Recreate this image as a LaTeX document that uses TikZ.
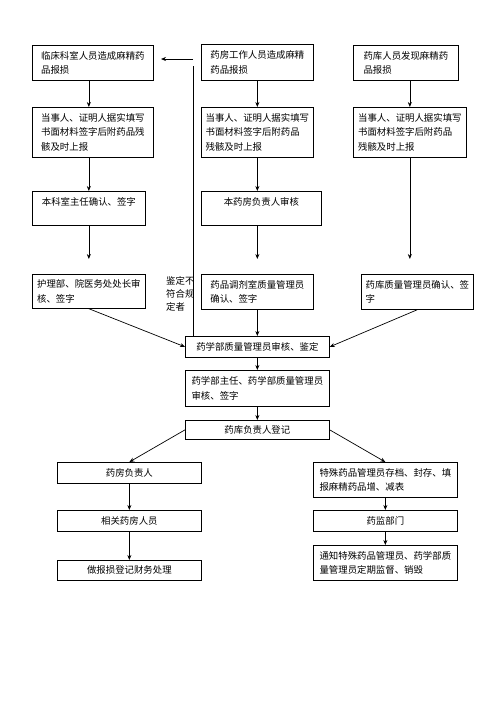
\documentclass[tikz,border=0pt]{standalone}
\usepackage{fontspec}
\newfontfamily\cjk{Noto Sans CJK SC}
\usetikzlibrary{arrows.meta}
\begin{document}
\begin{tikzpicture}[x=1pt,y=-1pt,
  box/.style={draw, line width=0.7pt, anchor=north west, inner xsep=4pt, inner ysep=2pt,
    align=left, font=\cjk\fontsize{9.4}{14.5}\selectfont},
  cbox/.style={box, align=center},
  arr/.style={line width=0.7pt, -{Stealth[length=5pt,width=4pt]}},
  ln/.style={line width=0.7pt},
  lbl/.style={anchor=north west, inner sep=0pt, align=left, font=\cjk\fontsize{9.4}{13}\selectfont}]
\useasboundingbox (0,0) rectangle (500,707);
\fill[white] (0,0) rectangle (500,707);
% row 1
\node[box, minimum width=121, minimum height=35] (a1) at (32,45) {临床科室人员造成麻精药\\品报损};
\node[box, minimum width=112, minimum height=36] (b1) at (201,44) {药房工作人员造成麻精\\药品报损};
\node[box, minimum width=105, minimum height=35] (c1) at (353,45) {药库人员发现麻精药\\品报损};
% row 2
\node[box, minimum width=121, minimum height=50] (a2) at (32,107) {当事人、证明人据实填写\\书面材料签字后附药品残\\骸及时上报};
\node[box, minimum width=112, minimum height=50] (b2) at (201,107) {当事人、证明人据实填写\\书面材料签字后附药品\\残骸及时上报};
\node[box, minimum width=113, minimum height=50] (c2) at (353,107) {当事人、证明人据实填写\\书面材料签字后附药品\\残骸及时上报};
% row 3
\node[cbox, minimum width=113, minimum height=34] (a3) at (32,191) {本科室主任确认、签字\\[0pt]\mbox{}};
\node[cbox, minimum width=120, minimum height=34] (b3) at (201,191) {本药房负责人审核\\[0pt]\mbox{}};
% row 4
\node[box, minimum width=113, minimum height=34] (a4) at (32,274) {护理部、院医务处处长审\\核、签字};
\node[box, minimum width=112, minimum height=35] (b4) at (201,274) {药品调剂室质量管理员\\确认、签字};
\node[box, minimum width=112, minimum height=35] (c4) at (361,274) {药库质量管理员确认、签\\字};
\node[lbl] (note) at (166,276) {鉴定不\\符合规\\定者};
% center
\node[cbox, minimum width=144, minimum height=21] (d1) at (185,336) {药学部质量管理员审核、鉴定};
\node[box, minimum width=144, minimum height=36] (d2) at (185,370) {药学部主任、药学部质量管理员\\审核、签字};
\node[cbox, minimum width=144, minimum height=19] (d3) at (185,420) {药库负责人登记};
% left bottom
\node[cbox, minimum width=144, minimum height=21] (e1) at (57,462) {药房负责人};
\node[cbox, minimum width=144, minimum height=21] (e2) at (57,510) {相关药房人员};
\node[cbox, minimum width=144, minimum height=20] (e3) at (57,560) {做报损登记财务处理};
% right bottom
\node[box, minimum width=144, minimum height=35] (f1) at (313,462) {特殊药品管理员存档、封存、填\\报麻精药品增、减表};
\node[cbox, minimum width=144, minimum height=21] (f2) at (313,510) {药监部门};
\node[box, minimum width=144, minimum height=35] (f3) at (313,545) {通知特殊药品管理员、药学部质\\量管理员定期监督、销毁};
% connectors
\draw[arr] (a1.south -| a3.north) -- (a2.north -| a3.north);
\draw[arr] (a2.south -| a3.north) -- (a3.north);
\draw[arr, shorten >=15pt] (a3.south) -- (a4.north);
\draw[arr] (b1.south -| b1.north) -- (b2.north -| b1.north);
\draw[arr] (b2.south -| b1.north) -- (b3.north -| b1.north);
\draw[arr, shorten >=15pt] (b3.south -| b1.north) -- (b4.north -| b1.north);
\draw[arr] (c1.south -| c2.north) -- (c2.north);
\draw[arr, shorten >=15pt] (c2.south) -- (c4.north -| c2.south);
\draw[arr] (a4.south) -- (d1.west);
\draw[arr] (c4.south) -- (d1.east);
\draw[arr] (b4.south) -- (d1.north -| b4.south);
\draw[arr] (d1.south) -- (d2.north);
\draw[arr] (d2.south) -- (d3.north);
\draw[arr] (d3.west) -- (e1.north);
\draw[arr] (d3.east) -- (f1.north);
\draw[arr] (e1.south) -- (e2.north);
\draw[arr] (e2.south) -- (e3.north);
\draw[arr] (f1.south) -- (f2.north);
\draw[arr] (f2.south) -- (f3.north);
% feedback
\coordinate (fbv) at (193,66);
\coordinate (fbh) at (193,59);
\coordinate (fbend) at (161,59);
\draw[ln] (d1.north -| fbv) -- (fbv);
\draw[arr] (fbh) -- (fbend);
\end{tikzpicture}
\end{document}
